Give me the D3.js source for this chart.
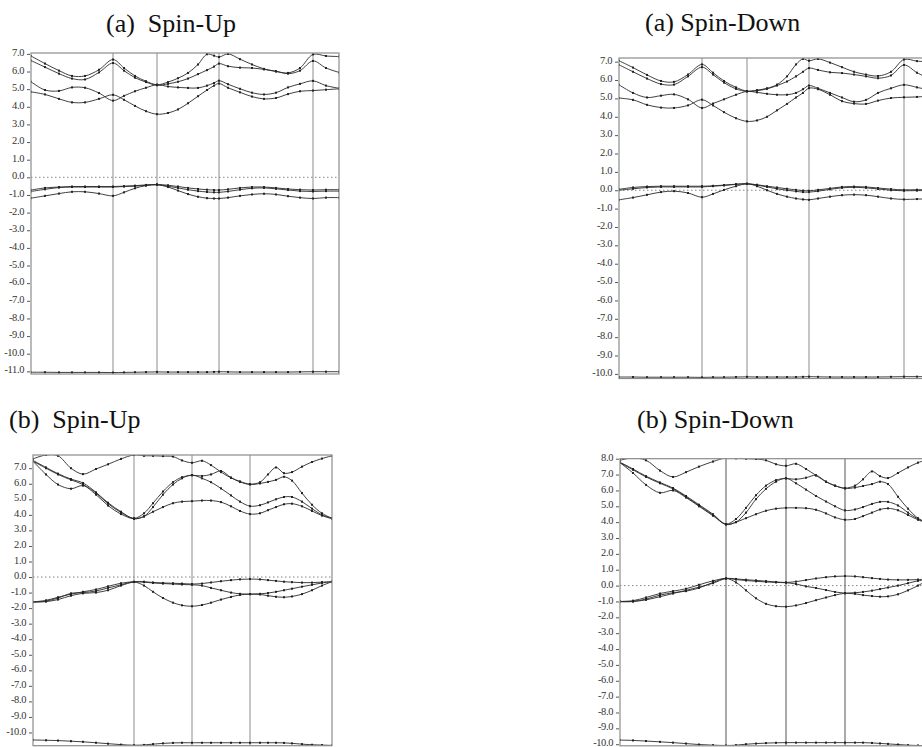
<!DOCTYPE html>
<html>
<head>
<meta charset="utf-8">
<script src="https://d3js.org/d3.v7.min.js"></script>
<style>
  body { margin: 0; background: #fff; }
  svg { display: block; }
  .tick text { font-family: "Liberation Serif", "DejaVu Serif", serif; font-size: 10.5px; fill: #333; letter-spacing: -0.4px; }
  .tick line { stroke: #555; }
  .title { font-family: "Liberation Serif", serif; font-size: 26px; fill: #111; white-space: pre; }
</style>
</head>
<body>
<svg width="922" height="747"></svg>
<script>
// k-path distance (arb. units) of the sampled k-points, and the high-symmetry points
var kA = [0, 14, 28, 41, 54, 68, 82, 93, 104, 115, 126, 137, 147, 157, 167, 176, 183, 188,
  197, 209, 221, 233, 245, 257, 269, 282, 295, 308];
var symA = [0, 82, 126, 188, 282, 308];

var kB = [0, 14, 28, 42, 55, 69, 83, 94, 105, 117, 128, 138, 148, 158, 168, 177, 184, 190,
  199, 211, 223, 235, 247, 259, 272, 285, 298, 311];
var symB = [0, 83, 128, 190, 285, 311];

var kC = [0, 13, 25, 38, 50, 63, 75, 88, 101, 111, 120, 130, 140, 149, 159, 169, 178, 188, 198, 207, 217,
  227, 235, 243, 251, 259, 269, 279, 289, 299];
var symC = [0, 101, 159, 217, 299];

var kD = [0, 13, 26, 40, 53, 66, 79, 93, 106, 116, 126, 136, 146, 156, 166, 176, 186, 196, 206, 215, 225,
  235, 243, 252, 260, 268, 278, 288, 298, 310];
var symD = [0, 106, 166, 225, 310];

// energy tick labels (eV)
var ticksA = [-11, -10, -9, -8, -7, -6, -5, -4, -3, -2, -1, 0, 1, 2, 3, 4, 5, 6, 7];
var ticksB = [-10, -9, -8, -7, -6, -5, -4, -3, -2, -1, 0, 1, 2, 3, 4, 5, 6, 7];
var ticksC = [-10, -9, -8, -7, -6, -5, -4, -3, -2, -1, 0, 1, 2, 3, 4, 5, 6, 7];
var ticksD = [-10, -9, -8, -7, -6, -5, -4, -3, -2, -1, 0, 1, 2, 3, 4, 5, 6, 7, 8];

// (a) spin-up energies (eV)
var ua1 = [6.88, 6.45, 6.05, 5.75, 5.75, 6.1, 6.68, 6.2, 5.75, 5.45, 5.25, 5.4, 5.62, 5.92, 6.4, 6.98, 6.9, 6.82,
  7.0, 6.7, 6.4, 6.15, 6.0, 5.92, 6.2, 6.97, 6.88, 6.85];
var ua2 = [6.62, 6.25, 5.88, 5.6, 5.55, 5.95, 6.48, 6.05, 5.65, 5.4, 5.22, 5.3, 5.42, 5.6, 5.85, 6.08, 6.28, 6.45,
  6.3, 6.22, 6.2, 6.12, 6.02, 5.88, 6.05, 6.6, 6.2, 5.95];
var ua3 = [5.42, 4.95, 4.9, 5.1, 5.08, 4.78, 4.35, 4.62, 4.88, 5.08, 5.25, 5.15, 5.1, 5.07, 5.07, 5.2, 5.35, 5.48,
  5.28, 5.02, 4.8, 4.7, 4.8, 5.1, 5.3, 5.47, 5.2, 5.05];
var ua4 = [4.85, 4.7, 4.45, 4.25, 4.25, 4.45, 4.68, 4.4, 4.05, 3.75, 3.58, 3.65, 3.85, 4.2, 4.6, 4.95, 5.2, 5.32,
  5.08, 4.82, 4.58, 4.45, 4.5, 4.72, 4.88, 4.92, 4.97, 5.02];
var ua5 = [-0.72, -0.6, -0.55, -0.52, -0.52, -0.52, -0.52, -0.5, -0.47, -0.43, -0.4, -0.45, -0.52, -0.6, -0.66, -0.7, -0.72, -0.72,
  -0.68, -0.6, -0.55, -0.55, -0.6, -0.66, -0.7, -0.72, -0.7, -0.7];
var ua6 = [-0.8, -0.68, -0.58, -0.55, -0.55, -0.55, -0.55, -0.52, -0.5, -0.45, -0.42, -0.5, -0.6, -0.7, -0.78, -0.83, -0.85, -0.85,
  -0.8, -0.7, -0.62, -0.6, -0.65, -0.72, -0.78, -0.8, -0.78, -0.78];
var ua7 = [-1.18, -1.05, -0.92, -0.82, -0.82, -0.92, -1.05, -0.85, -0.62, -0.47, -0.42, -0.55, -0.75, -0.95, -1.1, -1.18, -1.2, -1.2,
  -1.15, -1.05, -0.97, -0.93, -0.97, -1.07, -1.15, -1.2, -1.15, -1.15];
var ua8 = [-11.05, -11.05, -11.06, -11.06, -11.06, -11.06, -11.07, -11.06, -11.05, -11.04, -11.03, -11.04, -11.04, -11.04, -11.04, -11.04, -11.03, -11.02,
  -11.03, -11.04, -11.04, -11.04, -11.04, -11.04, -11.03, -11.02, -11.02, -11.02];

// (a) spin-down
var da1 = [7.05, 6.68, 6.28, 5.95, 5.9, 6.3, 6.85, 6.4, 5.95, 5.6, 5.4, 5.45, 5.55, 5.75, 6.2, 6.85, 7.15, 7.05,
  7.15, 6.95, 6.7, 6.45, 6.3, 6.22, 6.45, 7.12, 7.03, 7.0];
var da2 = [6.83, 6.45, 6.08, 5.78, 5.75, 6.2, 6.7, 6.3, 5.86, 5.52, 5.38, 5.42, 5.52, 5.7, 5.92, 6.2, 6.45, 6.65,
  6.55, 6.42, 6.38, 6.3, 6.2, 6.1, 6.25, 6.82, 6.4, 6.05];
var da3 = [5.74, 5.3, 5.05, 5.15, 5.22, 4.95, 4.48, 4.72, 4.95, 5.2, 5.38, 5.33, 5.25, 5.2, 5.2, 5.3, 5.5, 5.7,
  5.55, 5.3, 5.05, 4.82, 4.92, 5.3, 5.55, 5.74, 5.6, 5.45];
var da4 = [5.02, 4.92, 4.65, 4.5, 4.48, 4.62, 4.93, 4.62, 4.25, 3.92, 3.75, 3.8, 4.0, 4.35, 4.7, 5.05, 5.3, 5.56,
  5.5, 5.2, 4.85, 4.72, 4.7, 4.88, 5.02, 5.06, 5.08, 5.12];
var da5 = [0.05, 0.15, 0.2, 0.22, 0.22, 0.22, 0.22, 0.24, 0.28, 0.33, 0.35, 0.3, 0.22, 0.15, 0.08, 0.02, -0.02, -0.03,
  0.02, 0.1, 0.18, 0.2, 0.18, 0.12, 0.06, 0.02, 0.03, 0.03];
var da6 = [0.0, 0.08, 0.15, 0.18, 0.18, 0.18, 0.18, 0.22, 0.26, 0.32, 0.35, 0.28, 0.18, 0.08, 0.0, -0.06, -0.1, -0.1,
  -0.05, 0.05, 0.13, 0.16, 0.13, 0.07, 0.0, -0.03, -0.02, -0.02];
var da7 = [-0.52, -0.4, -0.25, -0.1, -0.05, -0.15, -0.38, -0.2, 0.02, 0.22, 0.35, 0.22, 0.0, -0.2, -0.35, -0.45, -0.5, -0.52,
  -0.45, -0.35, -0.27, -0.24, -0.27, -0.35, -0.45, -0.5, -0.48, -0.48];
var da8 = [-10.17, -10.17, -10.18, -10.18, -10.18, -10.18, -10.19, -10.18, -10.18, -10.17, -10.16, -10.17, -10.17, -10.17, -10.17, -10.17, -10.16, -10.15,
  -10.16, -10.17, -10.17, -10.17, -10.17, -10.17, -10.16, -10.15, -10.15, -10.15];

// (b) spin-up
var ub1 = [7.6, 7.85, 7.8, 7.0, 6.62, 6.95, 7.25, 7.6, 7.85, 7.8, 7.8, 7.78, 7.75, 7.5, 7.35, 7.48, 7.2, 6.75, 6.38, 6.15, 5.98,
  6.1, 6.6, 7.05, 6.68, 6.75, 7.1, 7.4, 7.62, 7.8];
var ub2 = [7.45, 7.0, 6.6, 6.25, 5.95, 5.4, 4.72, 4.15, 3.78, 4.1, 4.75, 5.5, 6.1, 6.42, 6.54, 6.5, 6.6, 6.82, 6.4, 6.12, 5.95,
  6.02, 6.12, 6.25, 6.45, 6.2, 5.4, 4.65, 4.1, 3.78];
var ub3 = [7.45, 6.6, 5.95, 5.68, 5.88, 5.3, 4.6, 4.05, 3.75, 3.9, 4.5, 5.3, 5.95, 6.35, 6.56, 6.35, 6.1, 5.7, 5.25, 4.85, 4.56,
  4.62, 4.8, 5.0, 5.15, 5.15, 4.85, 4.4, 4.0, 3.78];
var ub4 = [7.5, 7.05, 6.65, 6.3, 6.05, 5.45, 4.78, 4.2, 3.75, 3.9, 4.2, 4.5, 4.75, 4.85, 4.88, 4.92, 4.92, 4.82, 4.55, 4.25, 4.05,
  4.1, 4.3, 4.5, 4.68, 4.72, 4.55, 4.25, 3.95, 3.75];
var ub5 = [-1.6, -1.5, -1.3, -1.1, -0.95, -0.8, -0.6, -0.4, -0.3, -0.3, -0.35, -0.38, -0.4, -0.42, -0.45, -0.42, -0.35, -0.27, -0.2, -0.15, -0.13,
  -0.15, -0.2, -0.25, -0.3, -0.33, -0.36, -0.36, -0.33, -0.3];
var ub6 = [-1.62, -1.55, -1.35, -1.05, -1.0, -0.9, -0.7, -0.5, -0.32, -0.55, -0.95, -1.35, -1.65, -1.82, -1.88, -1.8, -1.65, -1.45, -1.28, -1.15, -1.1,
  -1.08, -1.03, -0.95, -0.85, -0.75, -0.62, -0.5, -0.38, -0.3];
var ub7 = [-1.6, -1.58, -1.45, -1.2, -1.05, -1.0, -0.85, -0.55, -0.32, -0.33, -0.38, -0.42, -0.45, -0.48, -0.5, -0.55, -0.7, -0.85, -1.0, -1.08, -1.1,
  -1.12, -1.2, -1.27, -1.3, -1.25, -1.1, -0.85, -0.55, -0.3];
var ub8 = [-10.48, -10.5, -10.52, -10.56, -10.6, -10.66, -10.72, -10.78, -10.82, -10.8, -10.75, -10.7, -10.67, -10.66, -10.66,
  -10.66, -10.66, -10.66, -10.66, -10.66, -10.66, -10.66, -10.66, -10.66, -10.67, -10.7, -10.75, -10.79, -10.81, -10.83];

// (b) spin-down
var db1 = [7.9, 8.05, 7.9, 7.25, 6.85, 7.15, 7.5, 7.82, 8.05, 8.02, 8.0, 7.98, 7.9, 7.65, 7.55, 7.68, 7.35, 6.95, 6.55, 6.3, 6.15,
  6.3, 6.7, 7.2, 6.9, 6.78, 7.1, 7.45, 7.75, 8.0];
var db2 = [7.75, 7.3, 6.85, 6.45, 6.1, 5.6, 5.05, 4.45, 3.88, 4.2, 4.9, 5.7, 6.3, 6.65, 6.75, 6.7, 6.8, 6.95, 6.55, 6.3, 6.12,
  6.18, 6.28, 6.4, 6.55, 6.4, 5.6, 4.85, 4.25, 3.88];
var db3 = [7.75, 7.1, 6.35, 5.85, 6.0, 5.55, 5.0, 4.4, 3.87, 4.0, 4.6, 5.45, 6.1, 6.55, 6.77, 6.45, 6.05, 5.65, 5.3, 5.0, 4.74,
  4.8, 4.95, 5.15, 5.28, 5.28, 5.05, 4.6, 4.2, 3.88];
var db4 = [7.78, 7.35, 6.9, 6.5, 6.15, 5.65, 5.1, 4.5, 3.85, 4.0, 4.25, 4.5, 4.72, 4.85, 4.9, 4.9, 4.88, 4.78, 4.55, 4.3, 4.15,
  4.2, 4.38, 4.6, 4.8, 4.87, 4.75, 4.45, 4.15, 3.88];
var db5 = [-1.0, -0.95, -0.75, -0.5, -0.35, -0.2, 0.05, 0.3, 0.46, 0.42, 0.37, 0.33, 0.28, 0.23, 0.2, 0.25, 0.35, 0.45, 0.53, 0.58, 0.6,
  0.58, 0.53, 0.47, 0.42, 0.38, 0.36, 0.36, 0.38, 0.42];
var db6 = [-1.02, -1.0, -0.85, -0.6, -0.45, -0.35, -0.15, 0.2, 0.45, 0.2, -0.3, -0.8, -1.15, -1.3, -1.33, -1.25, -1.1, -0.92, -0.75, -0.6, -0.48,
  -0.45, -0.4, -0.32, -0.22, -0.12, 0.0, 0.15, 0.3, 0.42];
var db7 = [-1.0, -1.0, -0.9, -0.7, -0.5, -0.3, -0.1, 0.15, 0.44, 0.38, 0.32, 0.27, 0.23, 0.2, 0.18, 0.1, -0.05, -0.15, -0.28, -0.4, -0.48,
  -0.52, -0.6, -0.66, -0.7, -0.68, -0.55, -0.3, 0.0, 0.42];
var db8 = [-9.74, -9.76, -9.8, -9.85, -9.9, -9.96, -10.02, -10.06, -10.08, -10.06, -10.0, -9.96, -9.93, -9.91, -9.9,
  -9.9, -9.9, -9.9, -9.9, -9.9, -9.9, -9.9, -9.9, -9.92, -9.95, -9.98, -10.02, -10.06, -10.08, -10.1];

var panels = [
  { title: '(a)  Spin-Up', tx: 106, ty: 32, k: kA, sym: symA, bands: [ua1, ua2, ua3, ua4, ua5, ua6, ua7, ua8],
    ey: [-11.15, 7.05], ticks: ticksA, l: 31, r: 339, t: 53, b: 374, vcol: '#8c8c8c' },
  { title: '(a) Spin-Down', tx: 645, ty: 31, k: kB, sym: symB, bands: [da1, da2, da3, da4, da5, da6, da7, da8],
    ey: [-10.25, 7.2], ticks: ticksB, l: 619, r: 930, t: 58, b: 378.5, vcol: '#8c8c8c' },
  { title: '(b)  Spin-Up', tx: 9, ty: 428, k: kC, sym: symC, bands: [ub1, ub2, ub3, ub4, ub5, ub6, ub7, ub8],
    ey: [-10.85, 7.85], ticks: ticksC, l: 33, r: 332, t: 455, b: 745.7, vcol: '#8c8c8c' },
  { title: '(b) Spin-Down', tx: 637, ty: 428, k: kD, sym: symD, bands: [db1, db2, db3, db4, db5, db6, db7, db8],
    ey: [-10.1, 8.0], ticks: ticksD, l: 620, r: 930, t: 458.7, b: 745.8, vcol: '#555' }
];

var svg = d3.select('svg');

panels.forEach(function(p, i) {
  var x = d3.scaleLinear().domain([p.k[0], p.k[p.k.length - 1]]).range([p.l, p.r]);
  var y = d3.scaleLinear().domain(p.ey).range([p.b, p.t]);
  var g = svg.append('g');

  g.append('text')
    .attr('class', 'title')
    .attr('x', p.tx)
    .attr('y', p.ty)
    .text(p.title);

  g.append('clipPath')
    .attr('id', 'clip' + i)
    .append('rect')
    .attr('x', p.l).attr('y', p.t)
    .attr('width', p.r - p.l).attr('height', p.b - p.t);

  // zero (Fermi) level
  g.append('line')
    .attr('x1', p.l).attr('x2', p.r)
    .attr('y1', y(0)).attr('y2', y(0))
    .attr('stroke', '#666')
    .attr('stroke-width', 0.8)
    .attr('stroke-dasharray', '1.5,2.5');

  // high-symmetry lines
  g.selectAll('.sym')
    .data(p.sym.slice(1, -1))
    .enter().append('line')
    .attr('x1', function(d) { return x(d); })
    .attr('x2', function(d) { return x(d); })
    .attr('y1', p.t).attr('y2', p.b)
    .attr('stroke', p.vcol)
    .attr('stroke-width', 1);

  var plot = g.append('g').attr('clip-path', 'url(#clip' + i + ')');
  var line = d3.line()
    .x(function(d, j) { return x(p.k[j]); })
    .y(function(d) { return y(d); })
    .curve(d3.curveCatmullRom.alpha(0.5));

  p.bands.forEach(function(band) {
    plot.append('path')
      .attr('d', line(band))
      .attr('fill', 'none')
      .attr('stroke', '#2a2a2a')
      .attr('stroke-width', 0.9);
    plot.selectAll(null)
      .data(band)
      .enter().append('rect')
      .attr('x', function(d, j) { return x(p.k[j]) - 1; })
      .attr('y', function(d) { return y(d) - 1; })
      .attr('width', 2).attr('height', 2)
      .attr('fill', '#222');
  });

  g.append('rect')
    .attr('x', p.l).attr('y', p.t)
    .attr('width', p.r - p.l).attr('height', p.b - p.t)
    .attr('fill', 'none')
    .attr('stroke', '#8c8c8c')
    .attr('stroke-width', 1.2);

  var axis = d3.axisLeft(y)
    .tickValues(p.ticks)
    .tickFormat(function(d) { return d.toFixed(1); })
    .tickSize(3)
    .tickPadding(3);
  var ag = g.append('g')
    .attr('transform', 'translate(' + (p.l - 1) + ',0)')
    .call(axis);
  ag.select('.domain').remove();
  ag.selectAll('text').attr('dy', '0.15em');
});
</script>
</body>
</html>
